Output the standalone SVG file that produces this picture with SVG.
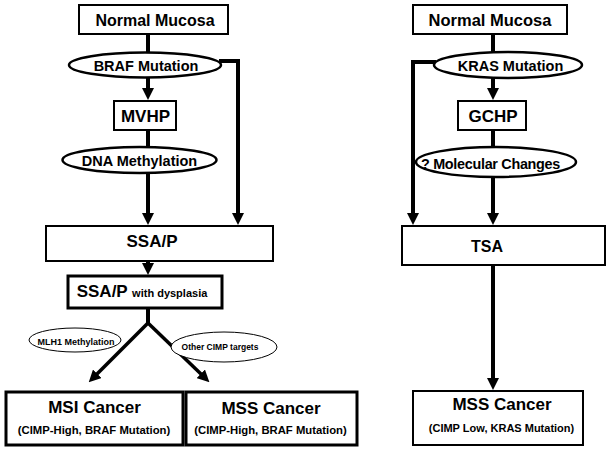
<svg xmlns="http://www.w3.org/2000/svg" width="612" height="450" viewBox="0 0 612 450">
<style>
text{font-family:"Liberation Sans",Arial,sans-serif;font-weight:bold;fill:#000;text-anchor:middle}
.box{fill:#fff;stroke:#000;stroke-width:2}
.thick{stroke-width:3}
.ell{fill:#fff;stroke:#000;stroke-width:2.5}
.thin{fill:#fff;stroke:#000;stroke-width:1}
.ln{fill:none;stroke:#000;stroke-width:4}
.arr{marker-end:url(#ah)}
</style>
<defs>
<marker id="ah" markerUnits="userSpaceOnUse" markerWidth="12" markerHeight="12" refX="1" refY="6" orient="auto" viewBox="0 0 12 12">
<path d="M0,0 L12,6 L0,12 z" fill="#000"/>
</marker>
</defs>
<rect width="612" height="450" fill="#fff"/>
<g id="connectors">
<path class="ln" d="M148,34 V52"/>
<path class="ln arr" d="M148,77 V89"/>
<path class="ln" d="M148,130 V147"/>
<path class="ln arr" d="M148,173 V214"/>
<path class="ln arr" d="M219,61 H238 V214"/>
<path class="ln arr" d="M148,261 V264"/>
<path class="ln" d="M148,308 V323"/>
<path class="ln arr" style="stroke-width:3.5" d="M148,323 L96.5,374.5"/>
<path class="ln arr" style="stroke-width:3.5" d="M148,323 L201.5,374.5"/>
<path class="ln" d="M493,34 V52"/>
<path class="ln arr" d="M493,78 V89"/>
<path class="ln" d="M493,130 V147"/>
<path class="ln arr" d="M493,177 V214"/>
<path class="ln arr" d="M436,62 H413 V214"/>
<path class="ln arr" d="M493,265 V379"/>
</g>
<g id="nm-left"><rect class="box" x="79" y="5" width="149" height="29"/><text x="155" y="26" font-size="16">Normal Mucosa</text></g>
<g id="braf"><ellipse class="ell" cx="145" cy="65" rx="76" ry="12.5"/><text x="146" y="70.5" font-size="14.5">BRAF Mutation</text></g>
<g id="mvhp"><rect class="box" x="114" y="101" width="62" height="29"/><text x="145.5" y="122" font-size="17">MVHP</text></g>
<g id="dna"><ellipse class="ell" cx="139.5" cy="160" rx="77" ry="13"/><text x="139.5" y="166" font-size="14.5">DNA Methylation</text></g>
<g id="ssap"><rect class="box" x="46" y="226" width="227" height="35"/><text x="152" y="247" font-size="17">SSA/P</text></g>
<g id="ssap-dys"><rect class="box thick" x="68" y="276" width="154" height="32"/><text x="142" y="297" font-size="17">SSA/P <tspan font-size="11">with dysplasia</tspan></text></g>
<g id="mlh1"><ellipse class="thin" cx="75" cy="340" rx="46" ry="12"/><text x="76" y="344.5" font-size="9">MLH1 Methylation</text></g>
<g id="cimp"><ellipse class="thin" cx="224" cy="347" rx="53" ry="15"/><text x="220" y="350" font-size="8.5">Other CIMP targets</text></g>
<g id="msi"><rect class="box thick" x="6" y="392" width="177" height="53"/><text x="94.5" y="413" font-size="17">MSI Cancer</text><text x="94" y="434" font-size="11.3">(CIMP-High, BRAF Mutation)</text></g>
<g id="mss-left"><rect class="box thick" x="186" y="392" width="171" height="53"/><text x="271" y="414" font-size="17">MSS Cancer</text><text x="270.5" y="434" font-size="11.3">(CIMP-High, BRAF Mutation)</text></g>
<g id="nm-right"><rect class="box" x="413" y="5" width="154" height="29"/><text x="490" y="26" font-size="16.5">Normal Mucosa</text></g>
<g id="kras"><ellipse class="ell" cx="508" cy="65" rx="74" ry="13"/><text x="510.5" y="71" font-size="14.5">KRAS Mutation</text></g>
<g id="gchp"><rect class="box" x="458" y="101" width="68" height="29"/><text x="493" y="122" font-size="17">GCHP</text></g>
<g id="molec"><ellipse class="ell" cx="496" cy="162" rx="80" ry="15"/><text x="490.5" y="168.5" font-size="14.4" letter-spacing="-0.3">? Molecular Changes</text></g>
<g id="tsa"><rect class="box" x="402" y="226" width="203" height="39"/><text x="487" y="252" font-size="16">TSA</text></g>
<g id="mss-right"><rect class="box" x="413" y="391" width="170" height="54"/><text x="502" y="409.5" font-size="17">MSS Cancer</text><text x="501.5" y="431.5" font-size="11">(CIMP Low, KRAS Mutation)</text></g>
</svg>
